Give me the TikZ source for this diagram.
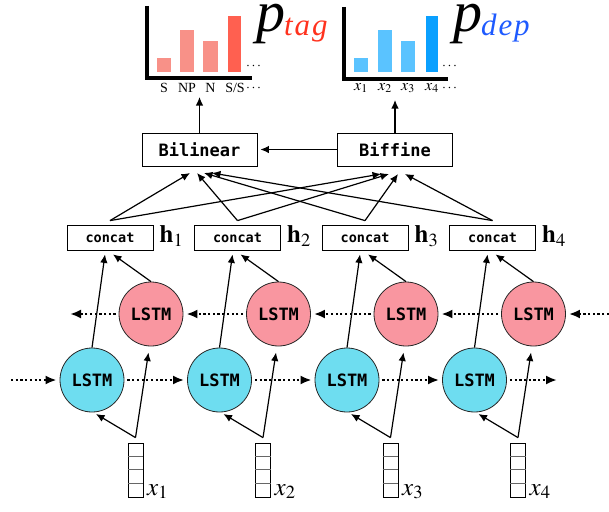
\documentclass[tikz,border=0pt]{standalone}
\usepackage{mathptmx}
\usepackage{fontspec}
\setmainfont{Liberation Serif}
\newfontfamily\monob{DejaVu Sans Mono}
\newfontfamily\subfont{Liberation Serif}[LetterSpace=6]
\usetikzlibrary{arrows.meta,calc}
\definecolor{lstmblue}{RGB}{110,221,240}
\definecolor{lstmred}{RGB}{249,150,160}
\definecolor{barred}{RGB}{248,145,136}
\definecolor{barredd}{RGB}{255,96,80}
\definecolor{barblue}{RGB}{90,195,255}
\definecolor{barblued}{RGB}{10,160,255}
\definecolor{tagred}{RGB}{255,50,30}
\definecolor{depblue}{RGB}{30,90,255}
\tikzset{
  lstmf/.style={circle, draw=black!85, line width=0.8pt, fill=lstmblue, minimum size=64pt, inner sep=0pt, font=\monob\bfseries\fontsize{17}{20}\selectfont},
  lstmb/.style={lstmf, fill=lstmred},
  concatbox/.style={draw, line width=0.8pt, minimum width=86pt, minimum height=25pt, inner sep=0pt, font=\monob\bfseries\fontsize{13.5}{15}\selectfont},
  scorebox/.style={draw, line width=0.8pt, minimum width=115pt, minimum height=33pt, inner sep=0pt, font=\monob\bfseries\fontsize{17}{20}\selectfont},
  vecbox/.style={draw, line width=0.8pt, minimum width=15pt, minimum height=54pt, inner sep=0pt},
  arr/.style={-{Latex[length=8.5pt,width=7.5pt]}, line width=1.2pt},
  dotarr/.style={-{Latex[length=11pt,width=9pt]}, line width=2.7pt, dash pattern=on 2.2pt off 2.5pt},
  biglbl/.style={inner sep=0pt, font=\fontsize{25}{25}\selectfont},
  smalllbl/.style={inner sep=0pt, font=\fontsize{14}{14}\selectfont},
  xlbl/.style={inner sep=0pt, font=\fontsize{16}{16}\selectfont},
  plbl/.style={inner sep=0pt, anchor=base west, text height=26pt, text depth=13pt, font=\fontsize{58}{58}\selectfont\itshape},
  sublbl/.style={inner sep=0pt, anchor=base west, font=\subfont\fontsize{31}{31}\selectfont\itshape},
}
\begin{document}
\begin{tikzpicture}[x=1pt,y=-1pt]
\useasboundingbox (0,0) rectangle (609,511);

% ---- charts ----
\fill[barred] (157,58) rectangle (171,72);
\fill[barred] (180,30) rectangle (194,72);
\fill[barred] (203,41) rectangle (218,72);
\fill[barredd] (228,16) rectangle (241,72);
\draw[line width=4pt] (147,6) -- (147,78) -- (252,78);
\fill[barblue] (354,58) rectangle (368,72);
\fill[barblue] (378,30) rectangle (392,72);
\fill[barblue] (401,41) rectangle (415,72);
\fill[barblued] (426,16) rectangle (438,72);
\draw[line width=4pt] (344,7) -- (344,79) -- (448,79);

\node[smalllbl, anchor=base west] (tdots) at (246,69.5) {$\cdots$};
\node[smalllbl, anchor=base west] (ddots) at (442,69.5) {$\cdots$};
\node[smalllbl, anchor=base] (lS) at (164,92) {S};
\node[smalllbl, anchor=base] (lNP) at (187,92) {NP};
\node[smalllbl, anchor=base] (lN) at (210.5,92) {N};
\node[smalllbl, anchor=base] (lSS) at (235,92) {S/S};
\node[smalllbl, anchor=base west] (lcd) at (246,91) {$\cdots$};
\node[xlbl, anchor=base] (dx1) at (361,90) {$x_1$};
\node[xlbl, anchor=base] (dx2) at (385,90) {$x_2$};
\node[xlbl, anchor=base] (dx3) at (408,90) {$x_3$};
\node[xlbl, anchor=base] (dx4) at (432,90) {$x_4$};
\node[smalllbl, anchor=base west] (dcd) at (442,91) {$\cdots$};

\node[plbl] (ptag) at (256,31) {p};
\node[sublbl, text=tagred] (tag) at (284,36) {tag};
\node[plbl] (pdep) at (453,31) {p};
\node[sublbl, text=depblue] (dep) at (481,36) {dep};

% ---- scorers ----
\node[scorebox] (bil) at (199.5,149.5) {Bilinear};
\node[scorebox] (bif) at (395,149.5) {Biffine};
\coordinate (tagtip) at (199.5,97);
\coordinate (deptip) at (395,100);
\draw[arr] (bil.north) -- (tagtip);
\draw[arr] (bif.north) -- (deptip);
\draw[arr] (bif.west) -- ($(bil.east)+(3,0)$);

\coordinate (bl1) at (190,173);
\coordinate (bl2) at (197,173);
\coordinate (bl3) at (204,173);
\coordinate (bl4) at (212,173);
\coordinate (bf1) at (381,174);
\coordinate (bf2) at (389,174);
\coordinate (bf3) at (398,174);
\coordinate (bf4) at (405,174);

% ---- columns ----
\foreach \i in {1,2,3,4}{
  \pgfmathsetmacro\dx{127.5*(\i-1)}
  \node[lstmf] (f\i) at (92+\dx,380) {LSTM};
  \node[lstmb] (b\i) at (151+\dx,314) {LSTM};
  \node[concatbox] (c\i) at (110+\dx,237.5) {concat};
  \node[biglbl, anchor=base west] (h\i) at ($(c\i.east)+(6,5)$) {$\mathbf{h}_{\i}$};
  \node[vecbox] (v\i) at (135.5+\dx,470) {};
  \draw[line width=0.6pt, black!60] ($(v\i.north west)+(0,13.5)$) -- ($(v\i.north east)+(0,13.5)$);
  \draw[line width=0.6pt, black!60] ($(v\i.north west)+(0,27)$) -- ($(v\i.north east)+(0,27)$);
  \draw[line width=0.6pt, black!60] ($(v\i.north west)+(0,40.5)$) -- ($(v\i.north east)+(0,40.5)$);
  \node[biglbl, anchor=base west] (x\i) at (147+\dx,495) {$x_{\i}$};
  \coordinate (in\i) at ($(v\i.north)+(0,-5)$);
  \draw[arr] (in\i) -- ($(f\i.center)+(4,34)$);
  \draw[arr] (in\i) -- ($(b\i.center)+(-2.5,38.5)$);
  \draw[arr] (f\i.north) -- ($(c\i.south)+(-5,4)$);
  \draw[arr] (b\i.north) -- ($(c\i.south)+(3,4)$);
  \coordinate (ap\i) at ($(c\i.north)+(0,-4)$);
  \draw[arr] (ap\i) -- (bl\i);
  \draw[arr] (ap\i) -- (bf\i);
}

% ---- recurrent dotted arrows ----
\coordinate (fstart) at (11,380);
\coordinate (fend) at (557,380);
\coordinate (bstart) at (609,314);
\coordinate (bend) at (70,314);
\draw[dotarr] (fstart) -- ($(f1.west)+(-3,0)$);
\draw[dotarr] ($(f4.east)+(3,0)$) -- (fend);
\draw[dotarr] (bstart) -- ($(b4.east)+(3,0)$);
\draw[dotarr] ($(b1.west)+(-3,0)$) -- (bend);
\foreach \i [evaluate=\i as \j using int(\i+1)] in {1,2,3}{
  \draw[dotarr] ($(f\i.east)+(3,0)$) -- ($(f\j.west)+(-3,0)$);
  \draw[dotarr] ($(b\j.west)+(-3,0)$) -- ($(b\i.east)+(3,0)$);
}
\end{tikzpicture}
\end{document}
